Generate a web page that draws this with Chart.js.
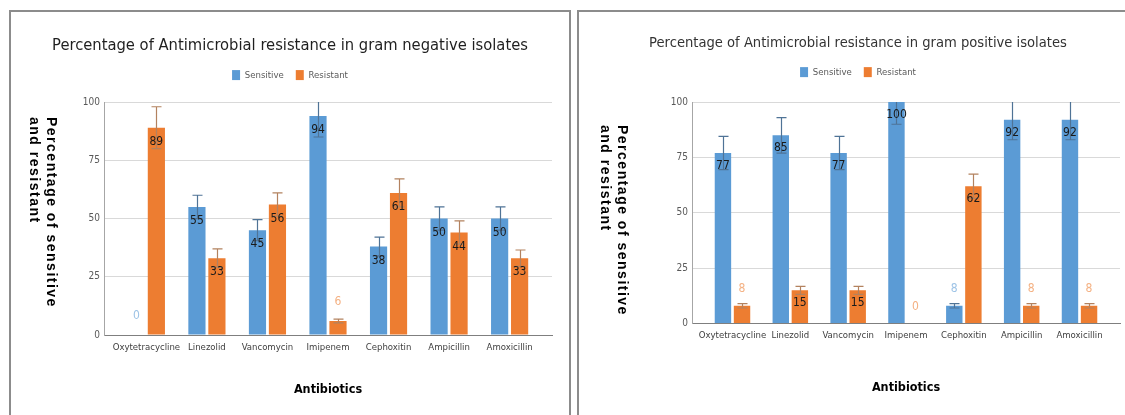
<!DOCTYPE html>
<html><head><meta charset="utf-8">
<script src="https://cdn.jsdelivr.net/npm/chart.js@4.4.1/dist/chart.umd.min.js"></script>
<style>
html,body{margin:0;padding:0;background:#fff;width:1125px;height:415px;overflow:hidden;position:relative}
.box{position:absolute;border:2px solid #8c8c8c;border-bottom:none;box-sizing:border-box}
#boxL{left:9px;top:10px;width:562px;height:420px}
#boxR{left:577px;top:10px;width:600px;height:420px}
canvas{position:absolute}
#cL{left:10px;top:11px}
#cR{left:578px;top:11px}
</style></head><body>
<div class="box" id="boxL"></div><div class="box" id="boxR"></div>
<canvas id="cL" width="560" height="404"></canvas>
<canvas id="cR" width="560" height="404"></canvas>
<script>
// ---- data ----
const categories = ['Oxytetracycline','Linezolid','Vancomycin','Imipenem','Cephoxitin','Ampicillin','Amoxicillin'];
const yTickStep = 25;
const yMax = 100;
const negSensitive    = [0, 55, 45, 94, 38, 50, 50];
const negResistant    = [89, 33, 56, 6, 61, 44, 33];
const negSensitiveErr = [0, 5, 4.5, 9, 4, 5, 5];
const negResistantErr = [9, 4, 5, 0.8, 6, 5, 3.5];
const posSensitive    = [77, 85, 77, 100, 8, 92, 92];
const posResistant    = [8, 15, 15, 0, 62, 8, 8];
const posSensitiveErr = [7.5, 8, 7.5, 10, 1, 9, 9];
const posResistantErr = [1, 1.8, 1.8, 0, 5.5, 1, 1];
const seriesNames = ['Sensitive', 'Resistant'];
const yTitleLines = ['Percentage of sensitive', 'and resistant'];
const xTitle = 'Antibiotics';

const NARROW = "'Liberation Sans Narrow','DejaVu Sans Condensed','Roboto Condensed',Arial,sans-serif";
const BLUE = '#5b9bd5', ORANGE = '#ed7d31';

const errorBars = {
  id: 'errorBars',
  afterDatasetsDraw(chart) {
    const {ctx, chartArea, scales: {y}} = chart;
    ctx.save();
    ctx.beginPath();
    ctx.rect(chartArea.left, chartArea.top, chartArea.right - chartArea.left, chartArea.bottom - chartArea.top);
    ctx.clip();
    chart.data.datasets.forEach((ds, di) => {
      chart.getDatasetMeta(di).data.forEach((bar, i) => {
        const e = ds.errors[i];
        if (!e) return;
        const v = ds.data[i].y;
        const yT = y.getPixelForValue(v + e), yB = y.getPixelForValue(v - e);
        const x = Math.round(bar.x) + 0.5;
        ctx.strokeStyle = ds.errorColor;
        ctx.lineWidth = 1.2;
        ctx.beginPath();
        ctx.moveTo(x, yT); ctx.lineTo(x, yB);
        ctx.moveTo(x - 5, yT); ctx.lineTo(x + 5, yT);
        ctx.moveTo(x - 5, yB); ctx.lineTo(x + 5, yB);
        ctx.stroke();
      });
    });
    ctx.restore();
  }
};

const valueLabels = {
  id: 'valueLabels',
  afterDatasetsDraw(chart, args, opts) {
    const ctx = chart.ctx;
    ctx.save();
    ctx.font = opts.font;
    ctx.textAlign = 'center';
    ctx.textBaseline = 'middle';
    chart.data.datasets.forEach((ds, di) => {
      chart.getDatasetMeta(di).data.forEach((bar, i) => {
        const v = ds.data[i].y;
        if (v < 10) {
          ctx.fillStyle = ds.labelLight;
          ctx.fillText(String(v), bar.x, bar.y - opts.outside);
        } else {
          ctx.fillStyle = opts.color;
          ctx.fillText(String(v), bar.x, bar.y + opts.inside);
        }
      });
    });
    ctx.restore();
  }
};

const yTitlePlugin = {
  id: 'yTitleCW',
  afterDraw(chart, args, opts) {
    const ctx = chart.ctx;
    ctx.save();
    ctx.translate(opts.x, opts.y);
    ctx.rotate(Math.PI / 2);
    ctx.font = opts.font;
    if ('letterSpacing' in ctx) ctx.letterSpacing = opts.spacing;
    ctx.fillStyle = '#000';
    ctx.textAlign = 'left';
    ctx.textBaseline = 'middle';
    opts.lines.forEach((l, k) => ctx.fillText(l, 0, k * opts.gap));
    ctx.restore();
  }
};

function makeChart(id, cfg) {
  return new Chart(document.getElementById(id), {
    type: 'bar',
    data: {
      datasets: [
        { label: seriesNames[0], data: cfg.sens.map((v, i) => ({x: i, y: v})), errors: cfg.sensErr,
          backgroundColor: BLUE, errorColor: '#4f7396', labelLight: '#9dc3e6' },
        { label: seriesNames[1], data: cfg.res.map((v, i) => ({x: i, y: v})), errors: cfg.resErr,
          backgroundColor: ORANGE, errorColor: '#b3825f', labelLight: '#f4b183' }
      ]
    },
    options: {
      responsive: false,
      animation: false,
      categoryPercentage: 0.66,
      barPercentage: 0.86,
      layout: { padding: { top: cfg.padTop, bottom: cfg.padBottom, left: 18, right: 18 } },
      scales: {
        x: {
          type: 'linear', min: -0.7, max: 6.7, offset: false,
          grid: { display: false, drawTicks: false },
          border: { display: true, color: '#7f7f7f', width: 1 },
          ticks: { stepSize: 1, includeBounds: false, autoSkip: false, maxRotation: 0, minRotation: 0,
                   padding: cfg.xTickPad, color: '#404040', font: { family: NARROW, size: 9.5 },
                   callback: v => Number.isInteger(v) ? categories[v] : '' },
          title: { display: true, text: xTitle, color: '#000', padding: { top: 0, bottom: 0 },
                   font: { family: NARROW, size: 12.5, weight: 'bold' } },
          afterFit: s => { s.height = cfg.xHeight; }
        },
        y: {
          min: 0, max: yMax,
          grid: { color: c => c.tick.value === 0 ? 'rgba(0,0,0,0)' : '#d9d9d9', drawTicks: false },
          border: { display: true, color: '#a6a6a6', width: 1 },
          ticks: { stepSize: yTickStep, padding: 4, color: '#595959', font: { family: NARROW, size: 10 } },
          afterFit: s => { s.width = cfg.yWidth; }
        }
      },
      plugins: {
        title: { display: true, text: cfg.title, color: cfg.titleColor,
                 font: { family: NARROW, size: cfg.titleSize, weight: 'normal' },
                 padding: { top: 0, bottom: cfg.titlePadB } },
        subtitle: { display: true, text: '', weight: 500, font: { size: 1 },
                    padding: { top: cfg.gapBelowLegend, bottom: 0 } },
        legend: { position: 'top',
                  labels: { boxWidth: 8, boxHeight: 10, padding: 12, color: '#595959',
                            font: { family: NARROW, size: 9.5 } } },
        tooltip: { enabled: false },
        valueLabels: { font: "12px " + NARROW, color: '#1a1a1a', inside: cfg.inside, outside: cfg.outside },
        yTitleCW: { x: cfg.yTitleX, y: cfg.yTitleY, gap: 17, lines: yTitleLines,
                    font: "bold 14px 'Liberation Sans',Arial,sans-serif", spacing: '1.5px' }
      }
    },
    plugins: [errorBars, valueLabels, yTitlePlugin]
  });
}

makeChart('cL', {
  sens: negSensitive, res: negResistant, sensErr: negSensitiveErr, resErr: negResistantErr,
  title: 'Percentage of Antimicrobial resistance in gram negative isolates', titleSize: 16.4, titleColor: '#1f1f1f',
  padTop: 25.2, titlePadB: 2.2, gapBelowLegend: 10.8,
  padBottom: 18.2, xHeight: 61.8, xTickPad: 7.3, yWidth: 76,
  inside: 14, outside: 19, yTitleX: 41, yTitleY: 106
});
makeChart('cR', {
  sens: posSensitive, res: posResistant, sensErr: posSensitiveErr, resErr: posResistantErr,
  title: 'Percentage of Antimicrobial resistance in gram positive isolates', titleSize: 14.6, titleColor: '#333333',
  padTop: 23.2, titlePadB: 3.4, gapBelowLegend: 13.8,
  padBottom: 20.2, xHeight: 71.3, xTickPad: 6.8, yWidth: 96,
  inside: 13, outside: 17, yTitleX: 44, yTitleY: 114
});
</script>
</body></html>
